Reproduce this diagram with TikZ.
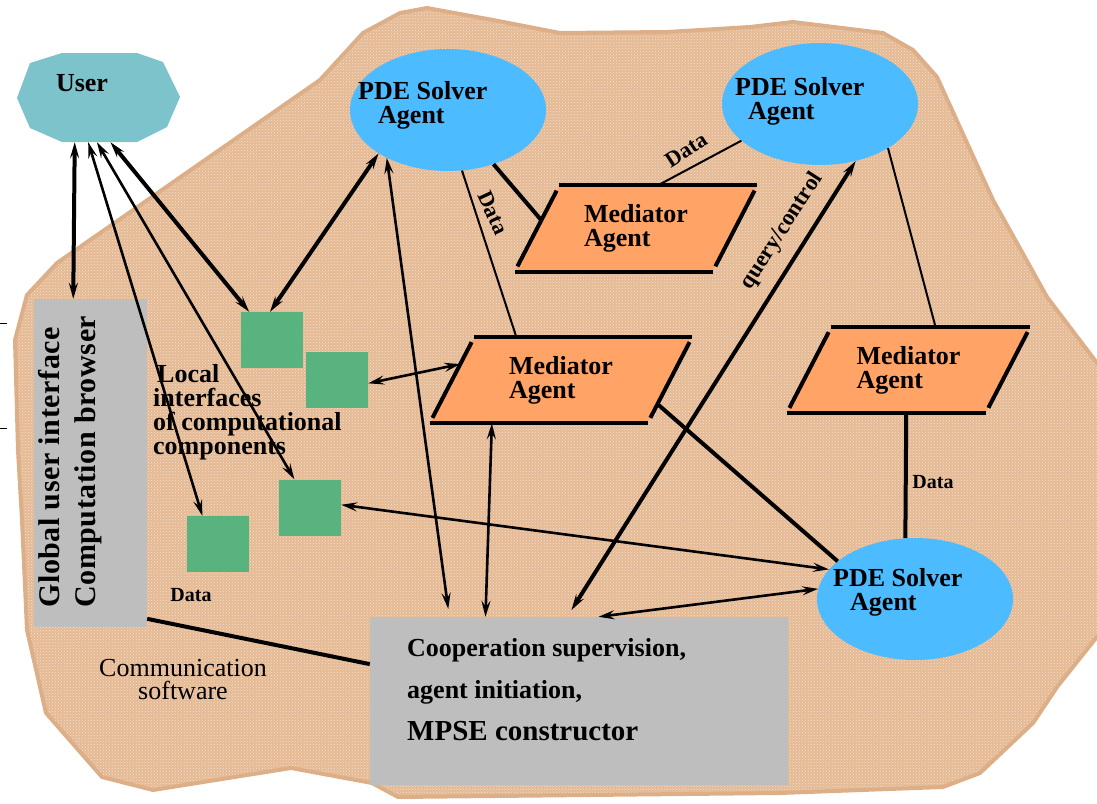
\documentclass[tikz,border=0pt]{standalone}
\usepackage{fontspec}
\setmainfont{Liberation Serif}
\usepackage{tikz}
\usetikzlibrary{arrows.meta,shapes.geometric,patterns}
\definecolor{ctan}{HTML}{E4B994}
\definecolor{ctandot}{HTML}{F6E2D0}
\definecolor{ctanedge}{HTML}{DDAF88}
\definecolor{cuser}{HTML}{7DC3CC}
\definecolor{cpde}{HTML}{4DBBFF}
\definecolor{cmed}{HTML}{FFA366}
\definecolor{cgreen}{HTML}{59B37F}
\definecolor{cgray}{HTML}{BEBEBE}
\newcommand\agentfont{\fontsize{26}{24}\selectfont\bfseries}
\newcommand\datafont{\fontsize{20}{22}\selectfont\bfseries}
\tikzset{
  >={Stealth[length=16pt,width=9pt,inset=6pt]},
  blob/.style={draw=ctanedge, line width=4pt, line join=round,
               preaction={fill=ctan}, pattern=crosshatch dots, pattern color=ctandot},
  userbox/.style={minimum width=163pt, minimum height=89pt, inner sep=0pt},
  pde/.style={ellipse, fill=cpde, minimum width=196pt, minimum height=122pt, inner sep=0pt},
  med/.style={trapezium, trapezium left angle=47, trapezium right angle=133,
              trapezium stretches body, fill=cmed, minimum height=86pt,
              inner sep=0pt, align=left, font=\agentfont},
  medline/.style={line width=4pt},
  medside/.style={line width=4pt, shorten <=6pt, shorten >=6pt},
  comp/.style={fill=cgreen, minimum width=62pt, minimum height=56pt, inner sep=0pt},
  graybox/.style={fill=cgray, inner sep=0pt},
  agtxt/.style={font=\agentfont, align=left, inner sep=0pt},
  datalbl/.style={font=\datafont, inner sep=0pt},
  conn/.style={<->},
  heavy/.style={line width=4pt},
  mid/.style={line width=2.6pt},
  light/.style={line width=2pt},
}
\begin{document}
\begin{tikzpicture}[x=1pt,y=-1pt]
  \useasboundingbox (0,0) rectangle (1097,803);

  % communication software area
  \path[blob] (363,33) -- (400,13) -- (427,8) -- (493,20) -- (560,33) -- (667,32)
    -- (750,27) -- (793,22) -- (883,33) -- (913,50) -- (937,77) -- (993,200)
    -- (1047,297) -- (1100,367) -- (1100,633) -- (1057,687) -- (1033,723)
    -- (980,773) -- (943,787) -- (780,793) -- (398,797) -- (372,783) -- (291,768)
    -- (153,790) -- (102,777) -- (46,713) -- (27,630) -- (22,520) -- (18,450)
    -- (15,340) -- (27,295) -- (57,263) -- (320,80) -- cycle;

  \draw[line width=1pt] (0,323) -- (7,323) (0,428) -- (7,428);

  % user outline
  \fill[cuser] (17,98) -- (30,63) -- (62,53) -- (137,53) -- (163,62) -- (180,97)
    -- (167,127) -- (137,142) -- (62,142) -- (30,128) -- cycle;

  % shapes
  \node[userbox] (user) at (98.5,97.5) {};
  \node[pde] (pde1) at (448,110) {};
  \node[pde] (pde2) at (820,104) {};
  \node[pde] (pde3) at (915,599) {};
  \node[med, minimum width=242pt] (med1) at (636,228.5) {Mediator\\Agent};
  \node[med, minimum width=262pt] (med2) at (561,380) {Mediator\\Agent};
  \node[med, minimum width=243pt] (med3) at (908.5,370) {Mediator\\Agent};
  \node[comp] (sq1) at (272,340) {};
  \node[comp] (sq2) at (337,379.5) {};
  \node[comp] (sq3) at (310,507.5) {};
  \node[comp] (sq4) at (218,544) {};
  \node[graybox, minimum width=113pt, minimum height=328pt] (gui) at (90.5,463) {};
  \node[graybox, minimum width=418pt, minimum height=168pt] (coop) at (579,701) {};

  \foreach \m in {med1,med2,med3} {
    \draw[medline] (\m.top left corner) -- (\m.top right corner);
    \draw[medline] (\m.bottom left corner) -- (\m.bottom right corner);
    \draw[medside] (\m.top left corner) -- (\m.bottom left corner);
    \draw[medside] (\m.top right corner) -- (\m.bottom right corner);
  }

  % connectors
  \draw[conn, heavy] (user.-118) -- (gui.96);
  \draw[conn, mid] (user.-103) -- (sq4.119);
  \draw[conn, mid] (user.-92) -- (sq3.119);
  \draw[conn, heavy] (user.-75) -- (sq1.129);
  \draw[conn, heavy] (pde1.212) -- (sq1.94);
  \draw[conn, mid, shorten >=8pt] (pde1.218) -- (coop.147);
  \draw[conn, mid] (sq2.-7) -- (med2.171);
  \draw[conn, mid] (med2.212) -- (coop.138);
  \draw[conn, heavy, shorten >=8pt] (pde2.-58) -- (coop.98);
  \draw[conn, mid] (coop.77) -- (pde3.174);
  \draw[conn, mid] (sq3.5) -- (pde3.161);
  \draw[heavy] (med2.-14) -- (pde3.154);
  \draw[light] (pde1.-77) -- (med2.136);
  \draw[heavy] (pde1.-50) -- (med1.175);
  \draw[light] (pde2.205) -- (med1.63);
  \draw[light] (pde2.-33) -- (med3.58);
  \draw[heavy] (med3.-93) -- (pde3.99);
  \draw[heavy] (gui.-70) -- (coop.170);

  % texts
  \node[agtxt] (usertxt) at (82,83) {User};
  \node[agtxt, anchor=west] (pde1txt) at (358,105) {PDE Solver\\\hspace*{20pt}Agent};
  \node[agtxt, anchor=west] (pde2txt) at (735,101) {PDE Solver\\\hspace*{13pt}Agent};
  \node[agtxt, anchor=west] (pde3txt) at (833,592) {PDE Solver\\\hspace*{17pt}Agent};
  \node[inner sep=0pt, rotate=90, anchor=west, align=left,
        font=\fontsize{30}{36}\selectfont\bfseries\addfontfeature{LetterSpace=2}]
    (guitxt) at (70,608) {Global user interface\\Computation browser};
  \node[agtxt, anchor=north west] (localtxt) at (153,364)
    {\hspace*{4pt}Local\\interfaces\\of computational\\components};
  \node[datalbl] (datasq) at (191,595) {Data};
  \node[datalbl] (datamed3) at (933,482) {Data};
  \node[datalbl, rotate=-65, font=\fontsize{22}{24}\selectfont\bfseries]
    (datapde1) at (493,213) {Data};
  \node[datalbl, rotate=33, font=\fontsize{22}{24}\selectfont\bfseries]
    (datapde2) at (686,150) {Data};
  \node[datalbl, rotate=57, font=\fontsize{23}{25}\selectfont\bfseries]
    (query) at (782,231) {query/control};
  \node[inner sep=0pt, align=center, font=\fontsize{26}{23}\selectfont]
    (commtxt) at (183,680) {Communication\\software};
  \node[inner sep=0pt, anchor=west, align=left, font=\fontsize{26}{42}\selectfont\bfseries]
    (cooptxt) at (407,690)
    {Cooperation supervision,\\agent initiation,\\{\fontsize{29}{42}\selectfont MPSE constructor}};
\end{tikzpicture}
\end{document}
